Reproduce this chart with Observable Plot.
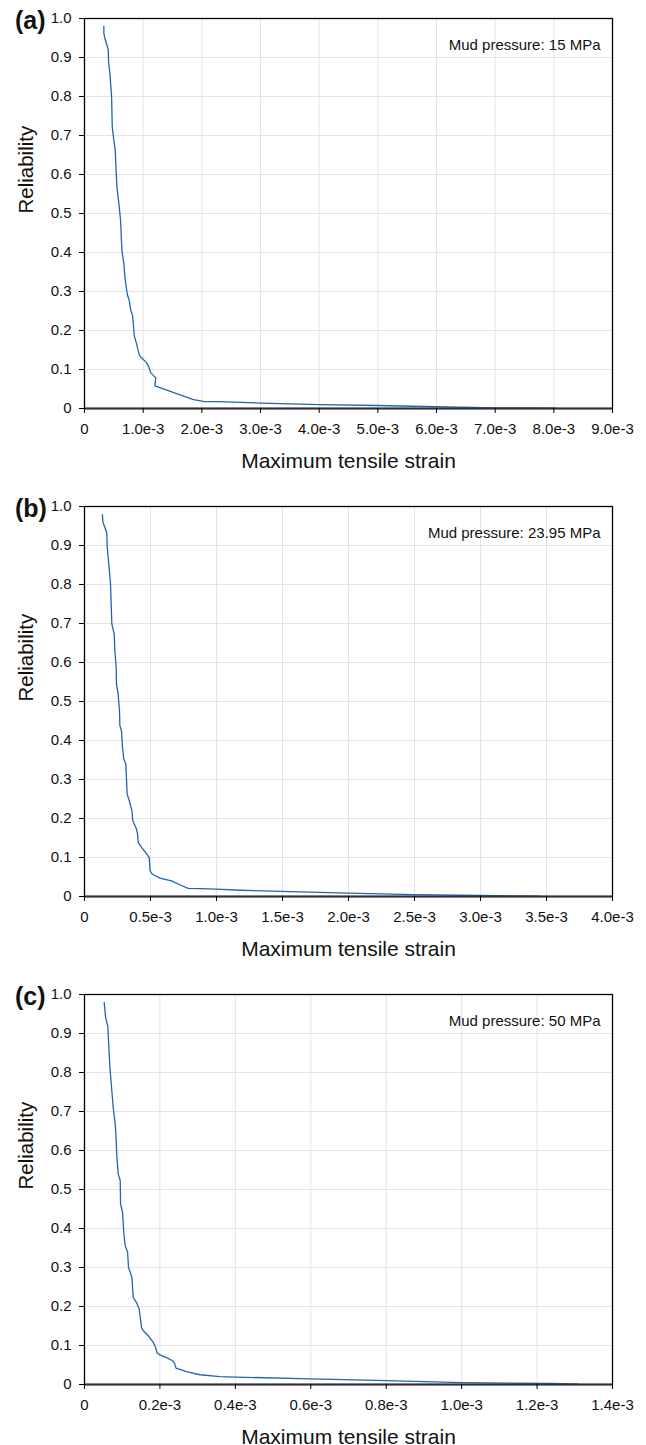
<!DOCTYPE html>
<html>
<head>
<meta charset="utf-8">
<script src="https://cdn.jsdelivr.net/npm/d3@7"></script>
<script src="https://cdn.jsdelivr.net/npm/@observablehq/plot@0.6"></script>
<style>
  body { margin: 0; background: #fff; color: #111; }
  #chart svg { display: block; }
</style>
</head>
<body>
<div id="chart"></div>
<script>
// ---------- Data (strain in units of 1e-3) ----------
const panelLabels = ["(a)", "(b)", "(c)"];
const pressureLabels = ["Mud pressure: 15 MPa", "Mud pressure: 23.95 MPa", "Mud pressure: 50 MPa"];
const xAxisLabel = "Maximum tensile strain";
const yAxisLabel = "Reliability";

const yTicks = [0, 0.1, 0.2, 0.3, 0.4, 0.5, 0.6, 0.7, 0.8, 0.9, 1.0];
const xTicksA = [0, 1, 2, 3, 4, 5, 6, 7, 8, 9];
const xTicksB = [0, 0.5, 1.0, 1.5, 2.0, 2.5, 3.0, 3.5, 4.0];
const xTicksC = [0, 0.2, 0.4, 0.6, 0.8, 1.0, 1.2, 1.4];

const strainA = [0.33, 0.33, 0.353, 0.405, 0.41, 0.433, 0.462, 0.473, 0.501, 0.524, 0.536, 0.553, 0.587, 0.615, 0.638, 0.672, 0.689, 0.729, 0.764, 0.786, 0.821, 0.849, 0.889, 0.934, 0.974, 1.06, 1.10, 1.128, 1.185, 1.214, 1.20, 1.858, 2.03, 2.3, 3.0, 4.0, 5.0, 6.0, 7.0, 8.04];
const reliabilityA = [0.980, 0.961, 0.946, 0.920, 0.889, 0.859, 0.799, 0.722, 0.687, 0.662, 0.619, 0.567, 0.524, 0.482, 0.404, 0.370, 0.336, 0.293, 0.276, 0.254, 0.237, 0.186, 0.165, 0.137, 0.130, 0.117, 0.105, 0.092, 0.083, 0.079, 0.058, 0.023, 0.018, 0.0175, 0.014, 0.010, 0.0077, 0.0045, 0.0018, 0.0008];

const strainB = [0.136, 0.139, 0.154, 0.169, 0.172, 0.184, 0.197, 0.207, 0.225, 0.230, 0.240, 0.242, 0.255, 0.265, 0.268, 0.280, 0.288, 0.298, 0.313, 0.323, 0.343, 0.359, 0.366, 0.394, 0.402, 0.407, 0.432, 0.462, 0.490, 0.497, 0.515, 0.571, 0.659, 0.710, 0.785, 0.874, 1.0, 1.177, 1.49, 2.0, 2.49, 2.99, 3.45];
const reliabilityB = [0.979, 0.960, 0.947, 0.932, 0.896, 0.853, 0.802, 0.699, 0.673, 0.630, 0.588, 0.545, 0.519, 0.476, 0.438, 0.425, 0.382, 0.352, 0.340, 0.263, 0.241, 0.220, 0.194, 0.173, 0.160, 0.139, 0.126, 0.113, 0.100, 0.066, 0.057, 0.047, 0.040, 0.032, 0.021, 0.020, 0.019, 0.016, 0.013, 0.0085, 0.005, 0.0026, 0.0008];

const strainC = [0.0522, 0.0558, 0.0619, 0.0637, 0.0673, 0.0717, 0.0761, 0.0814, 0.0832, 0.0858, 0.0894, 0.0947, 0.0956, 0.1009, 0.1044, 0.1080, 0.1142, 0.1168, 0.1257, 0.1292, 0.1381, 0.1451, 0.1513, 0.1558, 0.1690, 0.1823, 0.1885, 0.1929, 0.2, 0.2177, 0.2336, 0.2389, 0.2425, 0.2708, 0.3062, 0.3593, 0.4, 0.6, 0.8, 1.0, 1.235, 1.31];
const reliabilityC = [0.980, 0.942, 0.918, 0.882, 0.814, 0.762, 0.711, 0.668, 0.642, 0.583, 0.540, 0.523, 0.463, 0.441, 0.386, 0.356, 0.339, 0.300, 0.275, 0.223, 0.210, 0.193, 0.146, 0.138, 0.125, 0.108, 0.095, 0.080, 0.076, 0.069, 0.061, 0.054, 0.042, 0.033, 0.025, 0.020, 0.019, 0.0145, 0.010, 0.005, 0.0026, 0.001];

const panels = [
  {strain: strainA, rel: reliabilityA, ticks: xTicksA, label: panelLabels[0], pressure: pressureLabels[0], height: 488},
  {strain: strainB, rel: reliabilityB, ticks: xTicksB, label: panelLabels[1], pressure: pressureLabels[1], height: 488},
  {strain: strainC, rel: reliabilityC, ticks: xTicksC, label: panelLabels[2], pressure: pressureLabels[2], height: 469}
];

const FONT = '"Liberation Sans", Arial, Helvetica, sans-serif';
const LINE = "#2166b3";
const GRID = "#e4e4e4";
const mTop = 18, mLeft = 84, mRight = 34;

const chart = document.getElementById("chart");

for (const p of panels) {
  const data = p.strain.map((s, i) => ({strain: s, rel: p.rel[i]}));
  const xMax = p.ticks[p.ticks.length - 1];
  const mBottom = p.height - mTop - 390;
  const svg = Plot.plot({
    width: 646,
    height: p.height,
    marginTop: mTop,
    marginLeft: mLeft,
    marginRight: mRight,
    marginBottom: mBottom,
    style: {fontFamily: FONT, fontSize: "15px", background: "#fff", color: "#111", overflow: "visible"},
    x: {domain: [0, xMax]},
    y: {domain: [0, 1]},
    marks: [
      Plot.gridX({ticks: p.ticks, stroke: GRID, strokeOpacity: 1, strokeWidth: 1}),
      Plot.gridY({ticks: yTicks, stroke: GRID, strokeOpacity: 1, strokeWidth: 1}),
      Plot.frame({stroke: "#000", strokeWidth: 1.3}),
      Plot.line(data, {x: "strain", y: "rel", stroke: LINE, strokeWidth: 1.3, curve: "linear"}),
      Plot.ruleY([0], {stroke: "#333", strokeWidth: 2}),
      Plot.axisY({ticks: yTicks, tickSize: 5, tickPadding: 8, label: null, stroke: "#000",
        tickFormat: d => d === 0 ? "0" : d.toFixed(1)}),
      Plot.axisX({ticks: p.ticks, tickSize: 5, tickPadding: 10, label: null, stroke: "#000",
        tickFormat: d => d === 0 ? "0" : d.toFixed(1) + "e-3"}),
      Plot.text([xAxisLabel], {frameAnchor: "bottom", dy: 59, lineAnchor: "bottom", fontSize: 21, fill: "#111"}),
      Plot.text([yAxisLabel], {frameAnchor: "left", dx: -52, rotate: -90, lineAnchor: "bottom", fontSize: 20.5, fill: "#111"}),
      Plot.text([p.pressure], {frameAnchor: "top-right", dx: -12, dy: 31, textAnchor: "end", lineAnchor: "bottom", fontSize: 15, fill: "#111"}),
      Plot.text([p.label], {frameAnchor: "top-left", dx: -69.5, dy: 10.5, textAnchor: "start", lineAnchor: "bottom", fontSize: 25, fontWeight: "bold", fill: "#111"})
    ]
  });
  chart.appendChild(svg);
}
</script>
</body>
</html>
